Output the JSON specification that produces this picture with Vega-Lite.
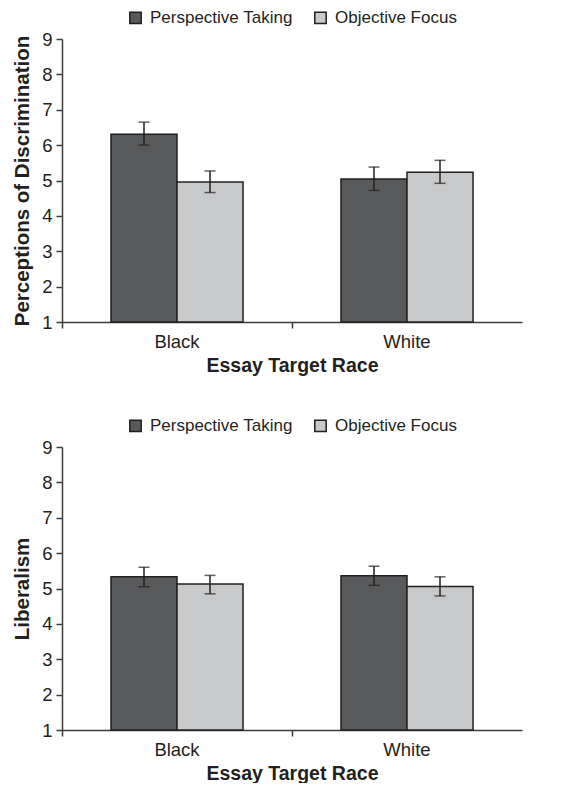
{
  "$schema": "https://vega.github.io/schema/vega-lite/v6.json",
  "padding": {"left": 12, "top": 9, "right": 5, "bottom": 0},
  "data": {"values": [
    {"panel": "A", "race": "Black", "condition": "Perspective Taking", "mean": 6.31, "lo": 6.0, "hi": 6.65},
    {"panel": "A", "race": "Black", "condition": "Objective Focus", "mean": 4.96, "lo": 4.66, "hi": 5.27},
    {"panel": "A", "race": "White", "condition": "Perspective Taking", "mean": 5.04, "lo": 4.72, "hi": 5.38},
    {"panel": "A", "race": "White", "condition": "Objective Focus", "mean": 5.23, "lo": 4.92, "hi": 5.57},
    {"panel": "B", "race": "Black", "condition": "Perspective Taking", "mean": 5.33, "lo": 5.05, "hi": 5.6},
    {"panel": "B", "race": "Black", "condition": "Objective Focus", "mean": 5.13, "lo": 4.85, "hi": 5.37},
    {"panel": "B", "race": "White", "condition": "Perspective Taking", "mean": 5.36, "lo": 5.09, "hi": 5.63},
    {"panel": "B", "race": "White", "condition": "Objective Focus", "mean": 5.06, "lo": 4.79, "hi": 5.33}
  ]},
  "config": {
    "font": "Liberation Sans",
    "view": {"stroke": null},
    "axis": {
      "domainColor": "#3c3c3c", "domainWidth": 1.5, "tickColor": "#3c3c3c", "tickWidth": 1.5, "tickSize": 6,
      "labelFontSize": 18.5, "labelColor": "#231f20", "titleFontWeight": "bold", "titleColor": "#231f20",
      "grid": false, "labelFont": "Liberation Sans", "titleFont": "Liberation Sans"
    },
    "axisX": {"titleFontSize": 19.5},
    "axisY": {"titleFontSize": 20.5},
    "legend": {
      "orient": "top", "direction": "horizontal", "labelFontSize": 17, "labelColor": "#231f20",
      "symbolType": "square", "symbolSize": 130, "symbolStrokeColor": "#231f20", "symbolStrokeWidth": 1.5,
      "columnPadding": 18, "labelOffset": 6, "offset": 12,
      "layout": {"top": {"anchor": "middle"}}
    }
  },
  "spacing": 42,
  "resolve": {"scale": {"color": "independent"}},
  "vconcat": [
    {
      "width": 460, "height": 283,
      "transform": [{"filter": "datum.panel == 'A'"}],
      "encoding": {
        "x": {"field": "race", "type": "nominal", "sort": ["Black", "White"], "scale": {"paddingInner": 0, "paddingOuter": 0},
              "axis": {"title": "Essay Target Race", "labelAngle": 0, "bandPosition": 0, "labelPadding": 4, "titlePadding": 6}},
        "xOffset": {"field": "condition", "type": "nominal", "sort": ["Perspective Taking", "Objective Focus"], "scale": {"paddingInner": 0, "paddingOuter": 0.742}}
      },
      "layer": [
        {"mark": {"type": "bar", "stroke": "#231f20", "strokeWidth": 1.5},
         "encoding": {
           "y": {"field": "mean", "type": "quantitative", "scale": {"domain": [1, 9], "nice": false, "zero": false},
                 "axis": {"title": "Perceptions of Discrimination", "values": [1,2,3,4,5,6,7,8,9], "labelPadding": 4, "titlePadding": 9}},
           "y2": {"datum": 1},
           "color": {"field": "condition", "type": "nominal", "title": null,
                     "scale": {"domain": ["Perspective Taking", "Objective Focus"], "range": ["#58595b", "#c8c9cb"]}}
         }},
        {"mark": {"type": "rule", "color": "#231f20", "strokeWidth": 1.5},
         "encoding": {"y": {"field": "lo", "type": "quantitative", "axis": {"title": "Perceptions of Discrimination", "values": [1,2,3,4,5,6,7,8,9], "labelPadding": 4, "titlePadding": 9}}, "y2": {"field": "hi"}}},
        {"mark": {"type": "tick", "color": "#231f20", "size": 11, "thickness": 1.5},
         "encoding": {"y": {"field": "hi", "type": "quantitative", "axis": {"title": "Perceptions of Discrimination", "values": [1,2,3,4,5,6,7,8,9], "labelPadding": 4, "titlePadding": 9}}}},
        {"mark": {"type": "tick", "color": "#231f20", "size": 11, "thickness": 1.5},
         "encoding": {"y": {"field": "lo", "type": "quantitative", "axis": {"title": "Perceptions of Discrimination", "values": [1,2,3,4,5,6,7,8,9], "labelPadding": 4, "titlePadding": 9}}}}
      ]
    },
    {
      "width": 460, "height": 283,
      "transform": [{"filter": "datum.panel == 'B'"}],
      "encoding": {
        "x": {"field": "race", "type": "nominal", "sort": ["Black", "White"], "scale": {"paddingInner": 0, "paddingOuter": 0},
              "axis": {"title": "Essay Target Race", "labelAngle": 0, "bandPosition": 0, "labelPadding": 4, "titlePadding": 6}},
        "xOffset": {"field": "condition", "type": "nominal", "sort": ["Perspective Taking", "Objective Focus"], "scale": {"paddingInner": 0, "paddingOuter": 0.742}}
      },
      "layer": [
        {"mark": {"type": "bar", "stroke": "#231f20", "strokeWidth": 1.5},
         "encoding": {
           "y": {"field": "mean", "type": "quantitative", "scale": {"domain": [1, 9], "nice": false, "zero": false},
                 "axis": {"title": "Liberalism", "values": [1,2,3,4,5,6,7,8,9], "labelPadding": 4, "titlePadding": 9}},
           "y2": {"datum": 1},
           "color": {"field": "condition", "type": "nominal", "title": null,
                     "scale": {"domain": ["Perspective Taking", "Objective Focus"], "range": ["#58595b", "#c8c9cb"]}}
         }},
        {"mark": {"type": "rule", "color": "#231f20", "strokeWidth": 1.5},
         "encoding": {"y": {"field": "lo", "type": "quantitative", "axis": {"title": "Liberalism", "values": [1,2,3,4,5,6,7,8,9], "labelPadding": 4, "titlePadding": 9}}, "y2": {"field": "hi"}}},
        {"mark": {"type": "tick", "color": "#231f20", "size": 11, "thickness": 1.5},
         "encoding": {"y": {"field": "hi", "type": "quantitative", "axis": {"title": "Liberalism", "values": [1,2,3,4,5,6,7,8,9], "labelPadding": 4, "titlePadding": 9}}}},
        {"mark": {"type": "tick", "color": "#231f20", "size": 11, "thickness": 1.5},
         "encoding": {"y": {"field": "lo", "type": "quantitative", "axis": {"title": "Liberalism", "values": [1,2,3,4,5,6,7,8,9], "labelPadding": 4, "titlePadding": 9}}}}
      ]
    }
  ]
}
